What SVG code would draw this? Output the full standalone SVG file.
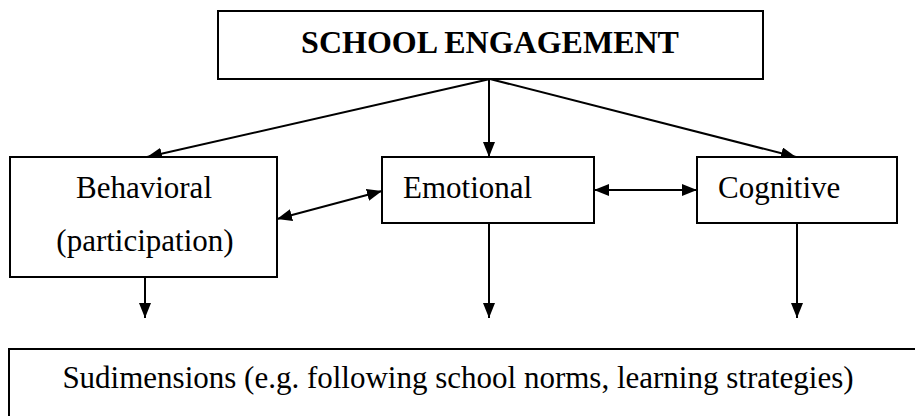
<svg xmlns="http://www.w3.org/2000/svg" width="915" height="416" viewBox="0 0 915 416">
  <style>
    .box { fill: #ffffff; stroke: #000000; stroke-width: 2; }
    .lbl { font-family: "Liberation Serif", "Times New Roman", serif; font-size: 31px; fill: #000000; }
    .title { font-family: "Liberation Serif", "Times New Roman", serif; font-size: 32px; font-weight: bold; fill: #000000; }
    .edge { fill: none; stroke: #000000; stroke-width: 2; }
  </style>
  <defs>
    <marker id="head" viewBox="0 0 15 12" refX="15" refY="6" markerWidth="15" markerHeight="12" markerUnits="userSpaceOnUse" orient="auto-start-reverse">
      <path d="M0,0 L15,6 L0,12 Z" fill="#000000"/>
    </marker>
  </defs>
  <rect width="915" height="416" fill="#ffffff"/>

  <g id="connectors">
    <!-- from the top box to the three dimensions -->
    <line class="edge" x1="490" y1="79" x2="147" y2="157" marker-end="url(#head)"/>
    <line class="edge" x1="489" y1="79" x2="489" y2="157" marker-end="url(#head)"/>
    <line class="edge" x1="490" y1="79" x2="796" y2="157" marker-end="url(#head)"/>
    <!-- links between the dimensions -->
    <line class="edge" x1="277" y1="219" x2="382" y2="191" marker-start="url(#head)" marker-end="url(#head)"/>
    <line class="edge" x1="594" y1="190" x2="697" y2="190" marker-start="url(#head)" marker-end="url(#head)"/>
    <!-- down to the subdimensions -->
    <line class="edge" x1="145" y1="277" x2="145" y2="318" marker-end="url(#head)"/>
    <line class="edge" x1="489" y1="223" x2="489" y2="318" marker-end="url(#head)"/>
    <line class="edge" x1="797" y1="223" x2="797" y2="318" marker-end="url(#head)"/>
  </g>

  <g id="school-engagement">
    <rect class="box" x="218" y="11" width="545" height="68"/>
    <text class="title" x="490" y="53" text-anchor="middle">SCHOOL ENGAGEMENT</text>
  </g>

  <g id="behavioral">
    <rect class="box" x="10" y="157" width="267" height="120"/>
    <text class="lbl" x="144" y="198" text-anchor="middle">Behavioral</text>
    <text class="lbl" x="145" y="251" text-anchor="middle">(participation)</text>
  </g>

  <g id="emotional">
    <rect class="box" x="382" y="157" width="212" height="66"/>
    <text class="lbl" x="403" y="198">Emotional</text>
  </g>

  <g id="cognitive">
    <rect class="box" x="697" y="157" width="200" height="66"/>
    <text class="lbl" x="718" y="198">Cognitive</text>
  </g>

  <g id="subdimensions">
    <rect class="box" x="9" y="349" width="930" height="100"/>
    <text class="lbl" x="458" y="388" text-anchor="middle">Sudimensions (e.g. following school norms, learning strategies)</text>
  </g>
</svg>
